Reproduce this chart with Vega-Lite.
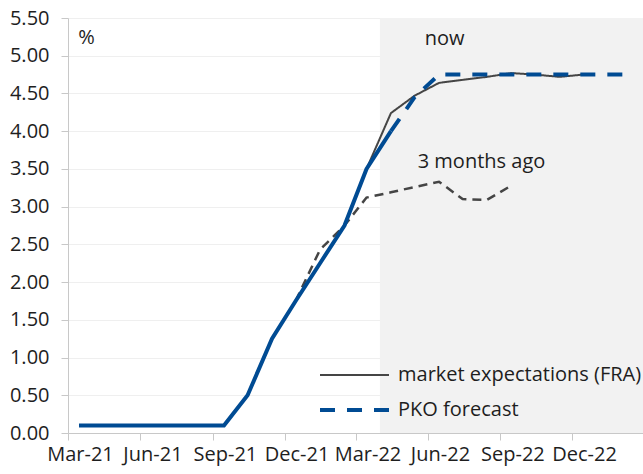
{
  "$schema": "https://vega.github.io/schema/vega-lite/v6.json",
  "width": 575,
  "height": 415,
  "autosize": {"type": "none"},
  "padding": {"left": 68, "top": 18, "right": 0, "bottom": 41},
  "background": "#ffffff",
  "config": {
    "view": {"stroke": null},
    "font": "Open Sans",
    "axis": {"labelFont": "Open Sans", "labelFontSize": 20, "labelColor": "#1e1e1e", "domainColor": "#c8c8c8", "tickColor": "#c8c8c8", "title": null}
  },
  "datasets": {
    "shade": [{"date": "2022-04-01", "end": "2023-03-01"}],
    "actual": [
      {"date": "2021-03-15", "value": 0.1},
      {"date": "2021-04-15", "value": 0.1},
      {"date": "2021-05-15", "value": 0.1},
      {"date": "2021-06-15", "value": 0.1},
      {"date": "2021-07-15", "value": 0.1},
      {"date": "2021-08-15", "value": 0.1},
      {"date": "2021-09-15", "value": 0.1},
      {"date": "2021-10-15", "value": 0.5},
      {"date": "2021-11-15", "value": 1.25},
      {"date": "2021-12-15", "value": 1.75},
      {"date": "2022-01-15", "value": 2.25},
      {"date": "2022-02-15", "value": 2.75},
      {"date": "2022-03-15", "value": 3.5},
      {"date": "2022-04-15", "value": 4.0}
    ],
    "ago": [
      {"date": "2021-12-15", "value": 1.75},
      {"date": "2022-01-15", "value": 2.43},
      {"date": "2022-02-15", "value": 2.75},
      {"date": "2022-03-15", "value": 3.12},
      {"date": "2022-04-15", "value": 3.19},
      {"date": "2022-05-15", "value": 3.26},
      {"date": "2022-06-15", "value": 3.33},
      {"date": "2022-07-15", "value": 3.10},
      {"date": "2022-08-15", "value": 3.09},
      {"date": "2022-09-15", "value": 3.28}
    ],
    "now": [
      {"series": "market expectations (FRA)", "date": "2022-03-15", "value": 3.5},
      {"series": "market expectations (FRA)", "date": "2022-04-15", "value": 4.24},
      {"series": "market expectations (FRA)", "date": "2022-05-15", "value": 4.47},
      {"series": "market expectations (FRA)", "date": "2022-06-15", "value": 4.64},
      {"series": "market expectations (FRA)", "date": "2022-07-15", "value": 4.68},
      {"series": "market expectations (FRA)", "date": "2022-08-15", "value": 4.72},
      {"series": "market expectations (FRA)", "date": "2022-09-15", "value": 4.77},
      {"series": "market expectations (FRA)", "date": "2022-10-15", "value": 4.75},
      {"series": "market expectations (FRA)", "date": "2022-11-15", "value": 4.72},
      {"series": "market expectations (FRA)", "date": "2022-12-15", "value": 4.75},
      {"series": "PKO forecast", "date": "2022-04-15", "value": 4.0},
      {"series": "PKO forecast", "date": "2022-05-15", "value": 4.45},
      {"series": "PKO forecast", "date": "2022-06-15", "value": 4.75},
      {"series": "PKO forecast", "date": "2022-07-15", "value": 4.75},
      {"series": "PKO forecast", "date": "2022-08-15", "value": 4.75},
      {"series": "PKO forecast", "date": "2022-09-15", "value": 4.75},
      {"series": "PKO forecast", "date": "2022-10-15", "value": 4.75},
      {"series": "PKO forecast", "date": "2022-11-15", "value": 4.75},
      {"series": "PKO forecast", "date": "2022-12-15", "value": 4.75},
      {"series": "PKO forecast", "date": "2023-01-15", "value": 4.75},
      {"series": "PKO forecast", "date": "2023-02-15", "value": 4.75}
    ],
    "notes": [
      {"label": "%", "date": "2021-03-14", "value": 5.16},
      {"label": "now", "date": "2022-05-28", "value": 5.14},
      {"label": "3 months ago", "date": "2022-05-19", "value": 3.51}
    ]
  },
  "encoding": {
    "x": {
      "field": "date", "type": "temporal",
      "scale": {"type": "utc", "domain": [{"year": 2021, "month": 3, "date": 1, "utc": true}, {"year": 2023, "month": 3, "date": 1, "utc": true}], "nice": false},
      "axis": {
        "values": [
          {"year": 2021, "month": 3, "date": 1, "utc": true},
          {"year": 2021, "month": 6, "date": 1, "utc": true},
          {"year": 2021, "month": 9, "date": 1, "utc": true},
          {"year": 2021, "month": 12, "date": 1, "utc": true},
          {"year": 2022, "month": 3, "date": 1, "utc": true},
          {"year": 2022, "month": 6, "date": 1, "utc": true},
          {"year": 2022, "month": 9, "date": 1, "utc": true},
          {"year": 2022, "month": 12, "date": 1, "utc": true}
        ],
        "format": "%b-%y", "labelOffset": 12, "labelFlush": false, "labelOverlap": false,
        "grid": false, "tickSize": 7, "labelPadding": 4
      }
    }
  },
  "layer": [
    {
      "data": {"name": "shade"},
      "mark": {"type": "rect", "color": "#f2f2f2"},
      "encoding": {
        "x2": {"field": "end"}
      }
    },
    {
      "data": {"name": "ago"},
      "mark": {"type": "line", "color": "#454545", "strokeWidth": 2.5, "strokeDash": [9, 6]},
      "encoding": {
        "y": {
          "field": "value", "type": "quantitative",
          "scale": {"domain": [0, 5.5], "nice": false},
          "axis": {"values": [0, 0.5, 1, 1.5, 2, 2.5, 3, 3.5, 4, 4.5, 5, 5.5], "format": ".2f", "grid": true, "gridColor": "#efefef", "tickSize": 7, "labelPadding": 12, "labelFlush": false, "labelOverlap": false}
        }
      }
    },
    {
      "data": {"name": "now"},
      "mark": {"type": "line"},
      "encoding": {
        "y": {
          "field": "value", "type": "quantitative",
          "scale": {"domain": [0, 5.5], "nice": false},
          "axis": {"values": [0, 0.5, 1, 1.5, 2, 2.5, 3, 3.5, 4, 4.5, 5, 5.5], "format": ".2f", "grid": true, "gridColor": "#efefef", "tickSize": 7, "labelPadding": 12, "labelFlush": false, "labelOverlap": false}
        },
        "color": {
          "field": "series", "type": "nominal",
          "scale": {"domain": ["market expectations (FRA)", "PKO forecast"], "range": ["#454545", "#004b93"]},
          "legend": {"orient": "none", "legendX": 250, "legendY": 347, "title": null, "symbolType": "stroke", "symbolSize": 4761, "labelFontSize": 20, "labelFont": "Open Sans", "labelColor": "#1e1e1e", "labelOffset": 7, "labelLimit": 300, "clipHeight": 20, "rowPadding": 15}
        },
        "strokeDash": {
          "field": "series", "type": "nominal",
          "scale": {"domain": ["market expectations (FRA)", "PKO forecast"], "range": [[1, 0], [15, 12]]},
          "legend": {"orient": "none", "legendX": 250, "legendY": 347, "title": null, "symbolType": "stroke", "symbolSize": 4761, "labelFontSize": 20, "labelFont": "Open Sans", "labelColor": "#1e1e1e", "labelOffset": 7, "labelLimit": 300, "clipHeight": 20, "rowPadding": 15}
        },
        "strokeWidth": {
          "field": "series", "type": "nominal",
          "scale": {"domain": ["market expectations (FRA)", "PKO forecast"], "range": [2, 4]},
          "legend": {"orient": "none", "legendX": 250, "legendY": 347, "title": null, "symbolType": "stroke", "symbolSize": 4761, "labelFontSize": 20, "labelFont": "Open Sans", "labelColor": "#1e1e1e", "labelOffset": 7, "labelLimit": 300, "clipHeight": 20, "rowPadding": 15}
        }
      }
    },
    {
      "data": {"name": "actual"},
      "mark": {"type": "line", "color": "#004b93", "strokeWidth": 4},
      "encoding": {
        "y": {
          "field": "value", "type": "quantitative",
          "scale": {"domain": [0, 5.5], "nice": false},
          "axis": {"values": [0, 0.5, 1, 1.5, 2, 2.5, 3, 3.5, 4, 4.5, 5, 5.5], "format": ".2f", "grid": true, "gridColor": "#efefef", "tickSize": 7, "labelPadding": 12, "labelFlush": false, "labelOverlap": false}
        }
      }
    },
    {
      "data": {"name": "notes"},
      "mark": {"type": "text", "font": "Open Sans", "fontSize": 20, "align": "left", "baseline": "alphabetic", "color": "#1e1e1e"},
      "encoding": {
        "y": {
          "field": "value", "type": "quantitative",
          "scale": {"domain": [0, 5.5], "nice": false},
          "axis": {"values": [0, 0.5, 1, 1.5, 2, 2.5, 3, 3.5, 4, 4.5, 5, 5.5], "format": ".2f", "grid": true, "gridColor": "#efefef", "tickSize": 7, "labelPadding": 12, "labelFlush": false, "labelOverlap": false}
        },
        "text": {"field": "label"}
      }
    }
  ]
}
